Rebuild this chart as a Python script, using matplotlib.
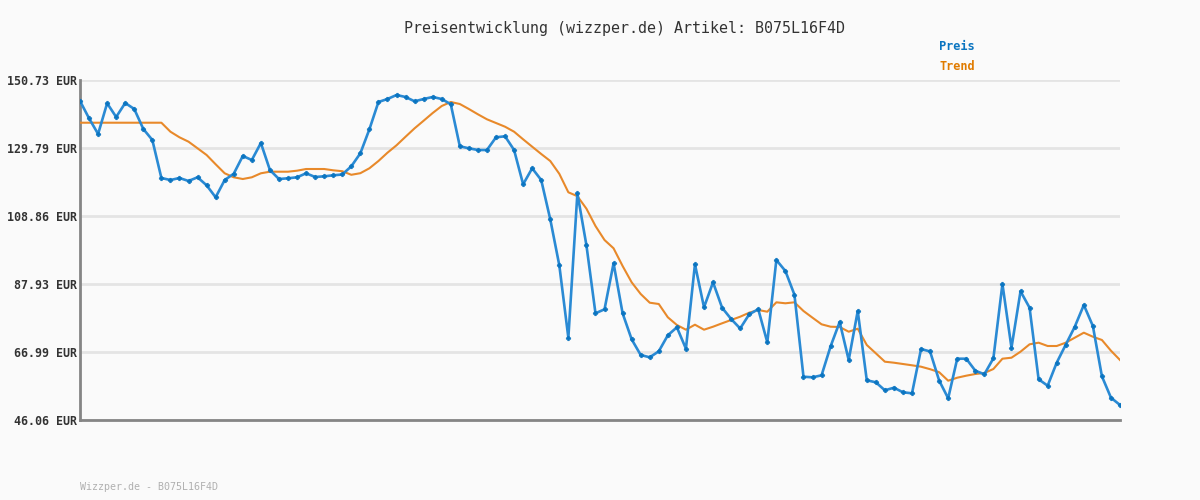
import matplotlib
matplotlib.use("Agg")
import numpy as np
import matplotlib.pyplot as plt

# price readings (EUR), one per sample
preis = [144.27, 138.94, 134.11, 143.56, 139.34, 143.65, 141.80, 135.65, 132.26, 120.56,
         119.94, 120.56, 119.64, 120.78, 118.31, 114.62, 119.94, 121.88, 127.33, 126.10,
         131.34, 123.02, 120.25, 120.47, 120.78, 122.01, 120.87, 121.08, 121.39, 121.64,
         124.16, 128.16, 135.55, 143.96, 144.88, 146.11, 145.50, 144.17, 144.88, 145.50,
         144.88, 143.25, 130.32, 129.70, 129.18, 129.18, 133.09, 133.40, 129.18, 118.62,
         123.55, 119.94, 107.85, 93.69, 71.40, 115.85, 99.84, 78.91, 80.14, 94.30,
         78.91, 70.90, 66.07, 65.36, 67.21, 72.14, 74.60, 68.01, 93.99, 80.75,
         88.45, 80.63, 77.15, 74.23, 78.60, 80.17, 69.98, 95.32, 91.93, 84.63,
         59.39, 59.20, 59.82, 68.75, 76.23, 64.53, 79.62, 58.28, 57.67, 55.20,
         56.00, 54.59, 54.28, 67.92, 67.15, 58.22, 52.74, 64.93, 64.93, 61.24,
         60.13, 65.05, 87.93, 68.32, 85.68, 80.63, 58.59, 56.62, 63.70, 69.24,
         74.78, 81.46, 75.00, 59.51, 52.93, 50.68]

trend = [137.58, 137.58, 137.58, 137.58, 137.58, 137.58, 137.58, 137.58, 137.58, 137.58,
         134.81, 133.09, 131.74, 129.70, 127.64, 124.78, 122.01, 120.78, 120.25, 120.78,
         122.01, 122.50, 122.50, 122.50, 122.81, 123.33, 123.33, 123.33, 122.93, 122.65,
         121.55, 122.04, 123.55, 125.79, 128.35, 130.63, 133.27, 135.86, 138.20, 140.57,
         142.73, 143.96, 143.34, 141.80, 140.17, 138.63, 137.49, 136.35, 134.81, 132.47,
         130.20, 127.95, 125.79, 121.85, 116.16, 114.96, 111.11, 105.78, 101.47, 98.92,
         93.47, 88.45, 84.85, 82.17, 81.77, 77.68, 75.31, 73.86, 75.40, 73.86,
         74.78, 75.83, 76.85, 77.86, 79.09, 79.92, 79.40, 82.29, 81.99, 82.29,
         79.62, 77.55, 75.52, 74.78, 74.69, 73.24, 74.17, 69.15, 66.59, 64.01,
         63.70, 63.30, 62.90, 62.47, 61.70, 60.78, 58.16, 59.08, 59.70, 60.22,
         60.53, 61.76, 64.93, 65.24, 67.09, 69.36, 69.86, 68.84, 68.84, 69.86,
         71.40, 72.94, 71.70, 70.69, 67.39, 64.53]

yticks = [46.06, 66.99, 87.93, 108.86, 129.79, 150.73]
artikel = "B075L16F4D"

bg = "#fafafa"
mono = "DejaVu Sans Mono"

fig = plt.figure(figsize=(12, 5), dpi=100, facecolor=bg)
ax = fig.add_axes([80/1200, 1-420/500, 1040/1200, 340/500], facecolor=bg)

x = np.arange(len(preis))
ax.plot(x, trend, color="#e8892a", lw=1.5, zorder=3)
ax.plot(x, preis, color="#2a8ad4", lw=1.9, marker="P", ms=3.2,
        mfc="#0a74c0", mec="#0a74c0", mew=0.5, zorder=4)

ax.set_xlim(0, len(preis) - 1)
ax.set_ylim(yticks[0], yticks[-1])
ax.set_yticks(yticks)
ax.set_yticklabels([f"{v:.2f} EUR" for v in yticks], fontfamily=mono,
                   fontweight="bold", fontsize=8.4, color="#333333")
ax.set_xticks([])
ax.tick_params(axis="y", length=0, pad=2)
ax.grid(axis="y", color="#e4e4e4", lw=2, zorder=0)
ax.set_axisbelow(True)
for s in ["top", "right"]:
    ax.spines[s].set_visible(False)
for s in ["left", "bottom"]:
    ax.spines[s].set_color("#858585")
    ax.spines[s].set_linewidth(2)

fig.text(0.52, 1-28/500, f"Preisentwicklung (wizzper.de) Artikel: {artikel}",
         ha="center", va="center", fontfamily=mono, fontsize=10.8, color="#333333")
fig.text(939/1200, 1-46/500, "Preis", ha="left", va="center", fontfamily=mono,
         fontweight="bold", fontsize=8.6, color="#0a74c0")
fig.text(939/1200, 1-67/500, "Trend", ha="left", va="center", fontfamily=mono,
         fontweight="bold", fontsize=8.6, color="#e07b00")
fig.text(80/1200, 1-487/500, f"Wizzper.de - {artikel}", ha="left", va="center",
         fontfamily=mono, fontsize=7.2, color="#b0b0b0")

plt.savefig("out.png", dpi=100, facecolor=bg)
